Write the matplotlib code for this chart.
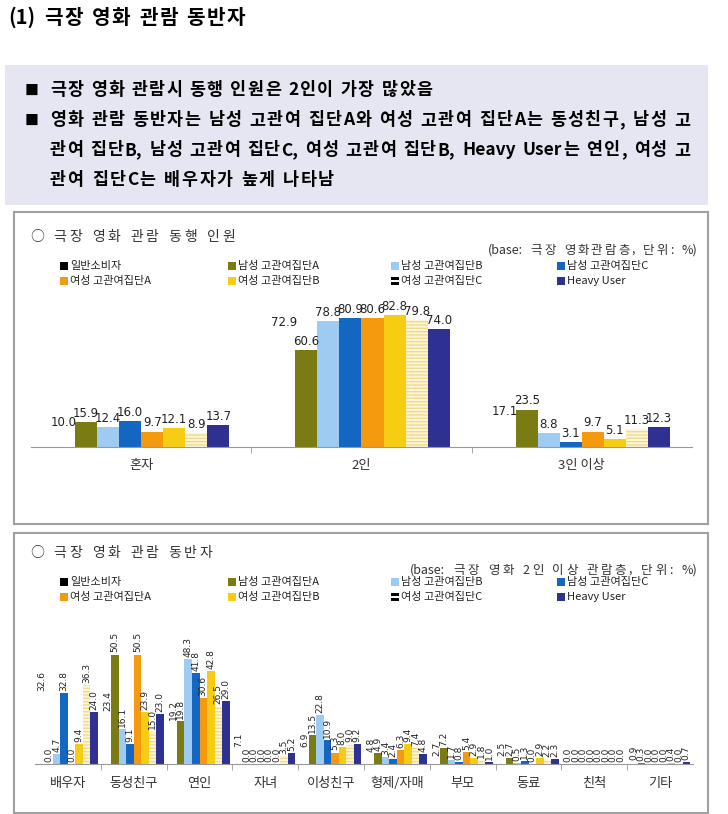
import re
import numpy as np
import matplotlib
matplotlib.use("Agg")
import matplotlib.pyplot as plt
from matplotlib.patches import Rectangle

plt.rcParams["font.family"] = ["Noto Sans CJK KR", "DejaVu Sans"]
plt.rcParams["hatch.linewidth"] = 0.9

W, H = 728, 814

series = ["일반소비자", "남성 고관여집단A", "남성 고관여집단B", "남성 고관여집단C",
          "여성 고관여집단A", "여성 고관여집단B", "여성 고관여집단C", "Heavy User"]
bar_colors = ["white", "#7b7b14", "#9ecbf2", "#1367c2",
              "#f5990f", "#f7cd14", "#fdf5d5", "#2e3192"]
legend_colors = ["black", "#7b7b14", "#9ecbf2", "#1367c2",
                 "#f5990f", "#f7cd14", "black", "#2e3192"]

# 극장 영화 관람 동행 인원
people_cats = ["혼자", "2인", "3인 이상"]
people_general = [10.0, 72.9, 17.1]
people_male_a = [15.9, 60.6, 23.5]
people_male_b = [12.4, 78.8, 8.8]
people_male_c = [16.0, 80.9, 3.1]
people_female_a = [9.7, 80.6, 9.7]
people_female_b = [12.1, 82.8, 5.1]
people_female_c = [8.9, 79.8, 11.3]
people_heavy = [13.7, 74.0, 12.3]

# 극장 영화 관람 동반자
comp_cats = ["배우자", "동성친구", "연인", "자녀", "이성친구", "형제/자매", "부모", "동료", "친척", "기타"]
comp_general = [32.6, 23.4, 19.2, 7.1, 6.9, 4.8, 2.7, 2.5, 0.0, 0.9]
comp_male_a = [0.0, 50.5, 19.8, 0.0, 13.5, 4.9, 7.2, 2.7, 0.0, 0.3]
comp_male_b = [4.7, 16.1, 48.3, 0.0, 22.8, 3.4, 1.7, 0.5, 0.0, 0.0]
comp_male_c = [32.8, 9.1, 41.8, 0.0, 10.9, 2.4, 0.8, 1.3, 0.0, 0.0]
comp_female_a = [0.0, 50.5, 30.6, 0.0, 5.3, 6.3, 5.4, 0.0, 0.0, 0.0]
comp_female_b = [9.4, 23.9, 42.8, 0.0, 8.0, 9.4, 2.9, 2.9, 0.0, 0.4]
comp_female_c = [36.3, 15.0, 26.5, 3.5, 9.0, 7.4, 1.8, 2.2, 0.0, 0.0]
comp_heavy = [24.0, 23.0, 29.0, 5.2, 9.2, 4.8, 1.0, 2.3, 0.0, 0.7]

fig = plt.figure(figsize=(W / 100, H / 100), dpi=100)


def fy(y):
    return 1 - y / H


def box(x0, y0, x1, y1, **kw):
    fig.add_artist(Rectangle((x0 / W, fy(y1)), (x1 - x0) / W, (y1 - y0) / H,
                             transform=fig.transFigure, **kw))


def track(text, y, x0, x1, fs, weight="normal", color="black"):
    # spread hangul glyphs (and latin runs) evenly so the line runs from x0 to x1
    r = fig.canvas.get_renderer()
    sp = fs * 100 / 72 * 0.3
    items = []
    for tok in re.findall(r"[\x21-\x7e]+| |.", text):
        if tok == " ":
            items.append((None, sp))
        else:
            t = fig.text(0, fy(y), tok, fontsize=fs, weight=weight, va="baseline", color=color)
            items.append((t, t.get_window_extent(r).width))
    gap = (x1 - x0 - sum(w for _, w in items)) / (len(items) - 1)
    x = x0
    for t, wd in items:
        if t is not None:
            t.set_x(x / W)
        x += wd + gap


def legend(y):
    cols = [60, 228, 391, 557]
    for i, name in enumerate(series):
        cx = cols[i % 4]
        cy = y + 15 * (i // 4)
        box(cx, cy - 4, cx + 8, cy + 4, color=legend_colors[i], lw=0)
        if i == 6:
            box(cx, cy - 0.6, cx + 8, cy + 0.6, color="white", lw=0)
        fig.text((cx + 10) / W, fy(cy), name, fontsize=8, va="center", color="#222")


def bars(ax, cats, data, width, fs, vertical):
    n = len(data)
    x = np.arange(len(cats))
    for i, vals in enumerate(data):
        pos = x - width * (n - 1) / 2 + i * width
        if i == 6:
            ax.bar(pos, vals, width, facecolor=bar_colors[i], edgecolor="#efd98a",
                   hatch="-----", lw=0)
        else:
            ax.bar(pos, vals, width, color=bar_colors[i], lw=0)
        for p, v in zip(pos, vals):
            ax.annotate(f"{v:.1f}", (p, v), xytext=(0, 1.5), textcoords="offset points",
                        rotation=90 if vertical else 0, ha="center", va="bottom",
                        fontsize=fs, family="DejaVu Sans", color="#222")
    ax.set_xlim(-0.5, len(cats) - 0.5)
    ax.set_xticks(x)
    ax.set_xticklabels(cats, fontsize=9.5, color="#333")
    ax.set_xticks(np.arange(1, len(cats)) - 0.5, minor=True)
    ax.tick_params(axis="x", which="major", length=0, pad=9)
    ax.tick_params(axis="x", which="minor", length=4, color="#999")
    ax.set_yticks([])
    for s in ["left", "top", "right"]:
        ax.spines[s].set_visible(False)
    ax.spines["bottom"].set_color("#999")


# header
track("(1) 극장 영화 관람 동반자", 24, 8, 245, 14.5, weight="bold")
box(5, 65, 708, 205, color="#e6e6f2", lw=0)
fig.text(25 / W, fy(95), "■", fontsize=10, va="baseline")
fig.text(25 / W, fy(125), "■", fontsize=10, va="baseline")
track("극장 영화 관람시 동행 인원은 2인이 가장 많았음", 95, 50, 432, 12.5, weight="bold")
track("영화 관람 동반자는 남성 고관여 집단A와 여성 고관여 집단A는 동성친구, 남성 고", 125, 50, 690, 12.5, weight="bold")
track("관여 집단B, 남성 고관여 집단C, 여성 고관여 집단B, Heavy User는 연인, 여성 고", 155, 50, 690, 12.5, weight="bold")
track("관여 집단C는 배우자가 높게 나타남", 185, 50, 334, 12.5, weight="bold")

# top panel
box(14, 212, 708, 524, fill=False, ec="#a0a0a0", lw=1.5)
track("○ 극장 영화 관람 동행 인원", 241, 30, 235, 10, color="#333")
track("(base: 극장 영화관람층, 단위: %)", 254, 488, 697, 9, color="#333")
legend(266)
ax1 = fig.add_axes([31 / W, fy(447), 661 / W, 143.5 / H])
ax1.set_ylim(0, 90)
bars(ax1, people_cats,
     [people_general, people_male_a, people_male_b, people_male_c,
      people_female_a, people_female_b, people_female_c, people_heavy],
     0.1, 8.5, False)

# bottom panel
box(14, 533, 708, 813, fill=False, ec="#a0a0a0", lw=1.5)
track("○ 극장 영화 관람 동반자", 557, 30, 212, 10, color="#333")
track("(base: 극장 영화 2인 이상 관람층, 단위: %)", 574, 410, 697, 9, color="#333")
legend(582)
ax2 = fig.add_axes([35 / W, fy(764), 658 / W, 130 / H])
ax2.set_ylim(0, 60)
bars(ax2, comp_cats,
     [comp_general, comp_male_a, comp_male_b, comp_male_c,
      comp_female_a, comp_female_b, comp_female_c, comp_heavy],
     0.114, 6.5, True)

fig.savefig("out.png", dpi=100)
